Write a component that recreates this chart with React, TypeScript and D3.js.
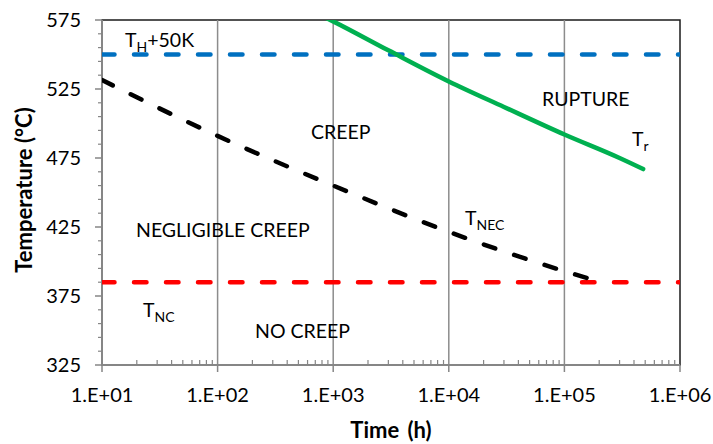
import React, { useEffect, useRef } from 'react';
import * as d3 from 'd3';

// axis ticks
const timeTicks = [1e1, 1e2, 1e3, 1e4, 1e5, 1e6];
const tempTicks = [325, 375, 425, 475, 525, 575];

// horizontal limits
const tH50 = [550];
const tNC = [385];

// T_NEC curve
const necTime = [10, 100, 1000, 10000, 100000, 190000];
const necTemp = [531.5, 491, 455, 421.5, 393, 386];

// rupture curve T_r
const ruptureTime = [800, 1000, 3000, 10000, 30000, 100000, 300000, 480000];
const ruptureTemp = [578, 574, 553, 530.5, 512, 492, 475, 467];

const W = 713;
const H = 444;
const margin = { left: 102, right: 33, top: 20, bottom: 79 };
const font = 'Lato, "Open Sans", sans-serif';

const drawChart = (svgEl: SVGSVGElement) => {
	const svg = d3.select(svgEl);
	svg.selectAll('*').remove();

	const x = d3.scaleLog().domain([1e1, 1e6]).range([margin.left, W - margin.right]);
	const y = d3.scaleLinear().domain([325, 575]).range([H - margin.bottom, margin.top]);
	const [x0, x1] = x.range();
	const [y0, y1] = y.range();

	svg.append('defs').append('clipPath').attr('id', 'plot')
		.append('rect')
		.attr('x', x0).attr('y', y1)
		.attr('width', x1 - x0).attr('height', y0 - y1);

	// plot border
	svg.append('rect')
		.attr('x', x0).attr('y', y1)
		.attr('width', x1 - x0).attr('height', y0 - y1)
		.attr('fill', 'none')
		.attr('stroke', '#1a1a1a')
		.attr('stroke-width', 1.5);

	// vertical gridlines
	svg.append('g')
		.selectAll('line')
		.data(timeTicks.slice(1, -1))
		.enter()
		.append('line')
		.attr('x1', (d) => x(d)).attr('x2', (d) => x(d))
		.attr('y1', y1).attr('y2', y0)
		.attr('stroke', '#8c8c8c')
		.attr('stroke-width', 1.5);

	const axisColor = '#868686';

	// x axis line + ticks
	const minor: number[] = [];
	for (let dec = 1; dec < 6; dec++) {
		for (let m = 2; m < 10; m++) minor.push(m * 10 ** dec);
	}
	const gx = svg.append('g');
	gx.append('line')
		.attr('x1', x0).attr('x2', x1).attr('y1', y0).attr('y2', y0)
		.attr('stroke', axisColor).attr('stroke-width', 2);
	gx.selectAll('line.minor')
		.data(minor)
		.enter()
		.append('line')
		.attr('class', 'minor')
		.attr('x1', (d) => x(d)).attr('x2', (d) => x(d))
		.attr('y1', y0).attr('y2', y0 - 5)
		.attr('stroke', axisColor).attr('stroke-width', 1.2);
	gx.selectAll('line.major')
		.data(timeTicks)
		.enter()
		.append('line')
		.attr('class', 'major')
		.attr('x1', (d) => x(d)).attr('x2', (d) => x(d))
		.attr('y1', y0).attr('y2', y0 + 7)
		.attr('stroke', axisColor).attr('stroke-width', 1.5);
	gx.selectAll('text')
		.data(timeTicks)
		.enter()
		.append('text')
		.attr('x', (d) => x(d))
		.attr('y', 402)
		.attr('text-anchor', 'middle')
		.attr('font-family', font)
		.attr('font-size', 20)
		.attr('fill', '#000')
		.text((d) => `1.E+${ String(Math.round(Math.log10(d))).padStart(2, '0') }`);

	// y axis line + ticks
	const yMinor = d3.range(335, 575, 10).filter((v) => !tempTicks.includes(v));
	const gy = svg.append('g');
	gy.append('line')
		.attr('x1', x0).attr('x2', x0).attr('y1', y1).attr('y2', y0)
		.attr('stroke', axisColor).attr('stroke-width', 2);
	gy.selectAll('line.minor')
		.data(yMinor)
		.enter()
		.append('line')
		.attr('class', 'minor')
		.attr('x1', x0 - 4).attr('x2', x0)
		.attr('y1', (d) => y(d)).attr('y2', (d) => y(d))
		.attr('stroke', axisColor).attr('stroke-width', 1.2);
	gy.selectAll('line.major')
		.data(tempTicks)
		.enter()
		.append('line')
		.attr('class', 'major')
		.attr('x1', x0 - 7).attr('x2', x0)
		.attr('y1', (d) => y(d)).attr('y2', (d) => y(d))
		.attr('stroke', axisColor).attr('stroke-width', 1.5);
	gy.selectAll('text')
		.data(tempTicks)
		.enter()
		.append('text')
		.attr('x', 81)
		.attr('y', (d) => y(d))
		.attr('dy', '0.36em')
		.attr('text-anchor', 'end')
		.attr('font-family', font)
		.attr('font-size', 20)
		.attr('fill', '#000')
		.text((d) => d);

	// axis titles
	svg.append('text')
		.attr('x', 391)
		.attr('y', 438)
		.attr('text-anchor', 'middle')
		.attr('font-family', font)
		.attr('font-weight', 'bold')
		.attr('font-size', 22)
		.attr('word-spacing', 3)
		.text('Time (h)');
	svg.append('text')
		.attr('transform', 'translate(32, 190) rotate(-90)')
		.attr('text-anchor', 'middle')
		.attr('font-family', font)
		.attr('font-weight', 'bold')
		.attr('font-size', 22)
		.text('Temperature (°C)');

	const plot = svg.append('g').attr('clip-path', 'url(#plot)');

	// horizontal dashed limits
	const hline = (vals: number[], color: string) => plot.selectAll(null)
		.data(vals)
		.enter()
		.append('line')
		.attr('x1', x0).attr('x2', x1)
		.attr('y1', (d) => y(d)).attr('y2', (d) => y(d))
		.attr('stroke', color)
		.attr('stroke-width', 4.5)
		.attr('stroke-linecap', 'round')
		.attr('stroke-dasharray', '12.5,19.5');
	hline(tH50, '#0070C0');
	hline(tNC, '#FF0000');

	const line = d3.line<[number, number]>()
		.x((d) => x(d[0]))
		.y((d) => y(d[1]))
		.curve(d3.curveMonotoneX);

	plot.append('path')
		.datum(d3.zip(necTime, necTemp) as [number, number][])
		.attr('fill', 'none')
		.attr('stroke', '#000')
		.attr('stroke-width', 4.5)
		.attr('stroke-linecap', 'round')
		.attr('stroke-dasharray', '12,20')
		.attr('d', line);

	plot.append('path')
		.datum(d3.zip(ruptureTime, ruptureTemp) as [number, number][])
		.attr('fill', 'none')
		.attr('stroke', '#00B050')
		.attr('stroke-width', 4.5)
		.attr('stroke-linecap', 'round')
		.attr('d', line);

	// annotations
	const label = (px: number, py: number, main: string, sub?: string, rest?: string) => {
		const t = svg.append('text')
			.attr('x', px).attr('y', py)
			.attr('font-family', font)
			.attr('font-size', 19.5)
			.attr('fill', '#000');
		t.append('tspan').text(main);
		if (sub) {
			t.append('tspan').attr('font-size', 14).attr('dy', 5).text(sub);
			if (rest) t.append('tspan').attr('dy', -5).text(rest);
		}
	};
	label(125, 47, 'T', 'H', '+50K');
	label(311, 139, 'CREEP');
	label(542, 106, 'RUPTURE');
	label(632, 146, 'T', 'r');
	label(465, 225, 'T', 'NEC');
	label(136, 237, 'NEGLIGIBLE CREEP');
	label(143, 317, 'T', 'NC');
	label(255, 338, 'NO CREEP');
};

const App = () => {
	const ref = useRef<SVGSVGElement>(null);

	useEffect(() => {
		if (ref.current) drawChart(ref.current);
	}, []);

	return (
		<svg
			ref={ ref }
			width={ W }
			height={ H }
			style={{ position: 'absolute', left: 0, top: 0, background: '#fff' }}
		/>
	);
};

export default App;
